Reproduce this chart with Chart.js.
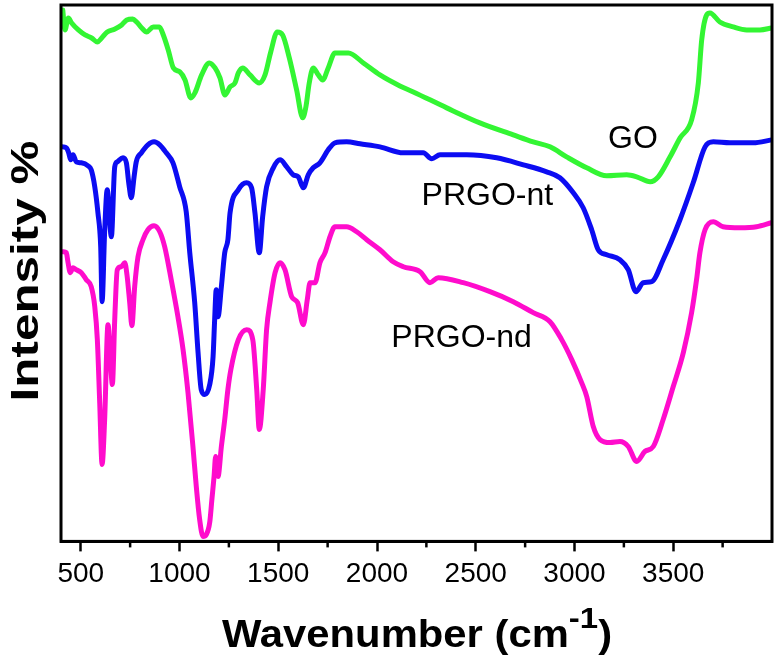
<!DOCTYPE html>
<html>
<head>
<meta charset="utf-8">
<script src="https://cdn.jsdelivr.net/npm/chart.js@4.4.1/dist/chart.umd.min.js"></script>
<style>
body { margin: 0; background: #fff; }
#wrap { width: 778px; height: 663px; }
</style>
</head>
<body>
<div id="wrap"><canvas id="ftirChart"></canvas></div>
<script>
// FTIR spectra (offset curves), wavenumber in cm-1, intensity in arbitrary units
var goWavenumber = [409, 420, 437, 454, 488, 522, 555, 584, 606, 634,
  673, 707, 733, 763, 783, 809, 834, 867, 898, 918,
  943, 969, 1002, 1028, 1057, 1078, 1112, 1151, 1180, 1205,
  1230, 1256, 1281, 1298, 1320, 1357, 1404, 1433, 1462, 1495,
  1522, 1556, 1593, 1624, 1640, 1657, 1677, 1703, 1725, 1753,
  1787, 1829, 1855, 1931, 2015, 2116, 2184, 2353, 2521, 2690,
  2791, 2876, 2960, 3062, 3163, 3264, 3315, 3383, 3424, 3484,
  3535, 3593, 3627, 3644, 3669, 3686, 3736, 3804, 3872, 3939, 3998];
var goIntensity = [532, 512, 524, 519, 512, 507, 504, 500, 504, 510,
  513, 517, 522, 523, 520, 514, 510, 515, 515, 507,
  492, 474, 470, 462, 444, 449, 467, 479, 474, 464,
  447, 455, 459, 469, 474, 467, 459, 467, 490, 510,
  507, 484, 452, 424, 435, 459, 474, 467, 462, 474,
  489, 489, 489, 479, 467, 456, 450, 434, 419, 407,
  400, 395, 385, 374, 366, 367, 365, 360, 365, 385,
  404, 422, 459, 502, 527, 529, 520, 515, 512, 512, 514];

var ntWavenumber = [410, 427, 439, 449, 461, 477, 503, 537, 553, 571,
  587, 601, 608, 621, 634, 655, 672, 685, 714, 731,
  743, 756, 770, 781, 807, 840, 871, 900, 933, 967,
  1001, 1034, 1052, 1077, 1094, 1110, 1128, 1153, 1170, 1178,
  1186, 1195, 1212, 1229, 1245, 1256, 1298, 1340, 1365, 1382,
  1404, 1421, 1441, 1475, 1509, 1543, 1576, 1601, 1627, 1652,
  1677, 1711, 1753, 1787, 1846, 1914, 2015, 2133, 2234, 2277,
  2319, 2454, 2606, 2741, 2859, 2926, 2994, 3044, 3087, 3120,
  3163, 3230, 3272, 3311, 3348, 3391, 3449, 3534, 3601, 3661,
  3703, 3787, 3905, 3998];
var ntIntensity = [395, 394, 389, 382, 387, 380, 379, 376, 372, 355,
  329, 295, 240, 310, 352, 305, 375, 380, 384, 379,
  359, 344, 365, 380, 389, 397, 400, 397, 389, 379,
  355, 330, 289, 239, 189, 152, 147, 157, 185, 222,
  252, 225, 255, 289, 302, 329, 352, 359, 354, 329,
  289, 325, 355, 374, 382, 375, 367, 365, 354, 367,
  374, 379, 392, 399, 400, 398, 395, 389, 389, 383,
  387, 387, 384, 377, 370, 364, 349, 334, 312, 292,
  287, 282, 272, 250, 259, 260, 282, 322, 359, 395,
  400, 399, 399, 402];

var ndWavenumber = [410, 427, 435, 447, 461, 477, 503, 528, 553, 571,
  584, 596, 608, 621, 638, 651, 660, 672, 685, 705,
  723, 734, 748, 759, 773, 790, 815, 840, 871, 900,
  925, 958, 992, 1018, 1043, 1068, 1085, 1102, 1119, 1136,
  1153, 1164, 1175, 1183, 1195, 1212, 1229, 1245, 1260, 1298,
  1340, 1371, 1391, 1404, 1424, 1441, 1458, 1484, 1509, 1534,
  1568, 1598, 1627, 1647, 1661, 1686, 1711, 1737, 1762, 1787,
  1846, 1897, 1948, 2015, 2082, 2133, 2218, 2268, 2310, 2437,
  2572, 2690, 2791, 2876, 2935, 2986, 3036, 3062, 3095, 3129,
  3180, 3230, 3272, 3315, 3356, 3399, 3449, 3500, 3551, 3593,
  3618, 3635, 3661, 3703, 3752, 3838, 3922, 3998];
var ndIntensity = [290, 289, 280, 269, 274, 272, 269, 262, 255, 235,
  202, 139, 77, 122, 217, 179, 157, 222, 272, 275,
  279, 267, 239, 216, 255, 285, 302, 312, 316, 310,
  295, 262, 225, 192, 149, 95, 55, 22, 5, 7,
  19, 42, 65, 85, 65, 95, 122, 152, 172, 202,
  212, 202, 152, 112, 152, 212, 239, 269, 279, 272,
  245, 239, 217, 242, 259, 259, 279, 289, 305, 315,
  315, 310, 302, 292, 280, 275, 270, 259, 264, 259,
  250, 240, 229, 220, 202, 182, 159, 145, 115, 102,
  99, 100, 95, 80, 90, 95, 122, 155, 189, 229,
  262, 289, 312, 320, 315, 314, 315, 319];

var majorTicks = [500, 1000, 1500, 2000, 2500, 3000, 3500];
var minorTicks = [750, 1250, 1750, 2250, 2750, 3250, 3750];

var fontFamily = '"Liberation Sans", Arial, Helvetica, sans-serif';

function toPoints(xs, ys) {
  return xs.map(function (x, i) { return { x: x, y: ys[i] }; });
}

// curve names written next to the spectra (data coordinates)
var curveNames = [
  { text: 'GO', x: 3296, y: 394 },
  { text: 'PRGO-nt', x: 2559, y: 337 },
  { text: 'PRGO-nd', x: 2428, y: 195 }
];

var decorations = {
  id: 'decorations',
  afterDraw: function (chart) {
    var ctx = chart.ctx;
    var area = chart.chartArea;
    var xs = chart.scales.x;
    var ys = chart.scales.y;
    ctx.save();

    // frame
    ctx.strokeStyle = '#000';
    ctx.lineWidth = 3;
    ctx.strokeRect(area.left, area.top, area.right - area.left, area.bottom - area.top);

    // minor ticks
    ctx.lineWidth = 2.5;
    minorTicks.forEach(function (v) {
      var px = xs.getPixelForValue(v);
      ctx.beginPath();
      ctx.moveTo(px, area.bottom);
      ctx.lineTo(px, area.bottom + 6);
      ctx.stroke();
    });

    // curve names
    ctx.fillStyle = '#000';
    ctx.font = '32px ' + fontFamily;
    ctx.textAlign = 'center';
    ctx.textBaseline = 'alphabetic';
    curveNames.forEach(function (n) {
      ctx.fillText(n.text, xs.getPixelForValue(n.x), ys.getPixelForValue(n.y));
    });

    // y title
    ctx.save();
    ctx.translate(38, 271);
    ctx.rotate(-Math.PI / 2);
    ctx.scale(1.3, 1);
    ctx.font = 'bold 38px ' + fontFamily;
    ctx.fillText('Intensity %', 0, 0);
    ctx.restore();

    // x title with superscript
    var big = 'bold 38px ' + fontFamily;
    var small = 'bold 30px ' + fontFamily;
    ctx.font = big;
    var w1 = ctx.measureText('Wavenumber (cm').width;
    var w3 = ctx.measureText(')').width;
    ctx.font = small;
    var w2 = ctx.measureText('-1').width;
    ctx.save();
    ctx.translate(417, 647);
    ctx.scale(1.1, 1);
    ctx.textAlign = 'left';
    var x = -(w1 + w2 + w3) / 2;
    ctx.font = big;
    ctx.fillText('Wavenumber (cm', x, 0);
    x += w1;
    ctx.font = small;
    ctx.fillText('-1', x, -19);
    x += w2;
    ctx.font = big;
    ctx.fillText(')', x, 0);
    ctx.restore();

    ctx.restore();
  }
};

var ctx = document.getElementById('ftirChart').getContext('2d');
var ftirChart = new Chart(ctx, {
  type: 'line',
  data: {
    datasets: [
      {
        label: 'GO',
        data: toPoints(goWavenumber, goIntensity),
        borderColor: '#33f533',
        borderWidth: 5
      },
      {
        label: 'PRGO-nt',
        data: toPoints(ntWavenumber, ntIntensity),
        borderColor: '#0c0cf2',
        borderWidth: 5
      },
      {
        label: 'PRGO-nd',
        data: toPoints(ndWavenumber, ndIntensity),
        borderColor: '#ff0ccc',
        borderWidth: 5
      }
    ]
  },
  options: {
    responsive: true,
    maintainAspectRatio: false,
    animation: false,
    parsing: false,
    elements: {
      point: { radius: 0 },
      line: { cubicInterpolationMode: 'monotone', fill: false, borderCapStyle: 'round', borderJoinStyle: 'round' }
    },
    layout: { padding: { left: 61, right: 6, top: 5, bottom: 66 } },
    plugins: {
      legend: { display: false },
      tooltip: { enabled: false }
    },
    scales: {
      x: {
        type: 'linear',
        min: 400,
        max: 4000,
        afterBuildTicks: function (scale) {
          scale.ticks = majorTicks.map(function (v) { return { value: v }; });
        },
        ticks: {
          color: '#000',
          font: { family: fontFamily, size: 28 },
          padding: 6,
          maxRotation: 0,
          autoSkip: false,
          callback: function (value) { return String(value); }
        },
        grid: {
          drawOnChartArea: false,
          tickLength: 10,
          tickWidth: 2.5,
          tickColor: '#000'
        },
        border: { display: true, color: '#000', width: 3 }
      },
      y: {
        display: false,
        min: 0,
        max: 537
      }
    }
  },
  plugins: [decorations]
});
</script>
</body>
</html>
